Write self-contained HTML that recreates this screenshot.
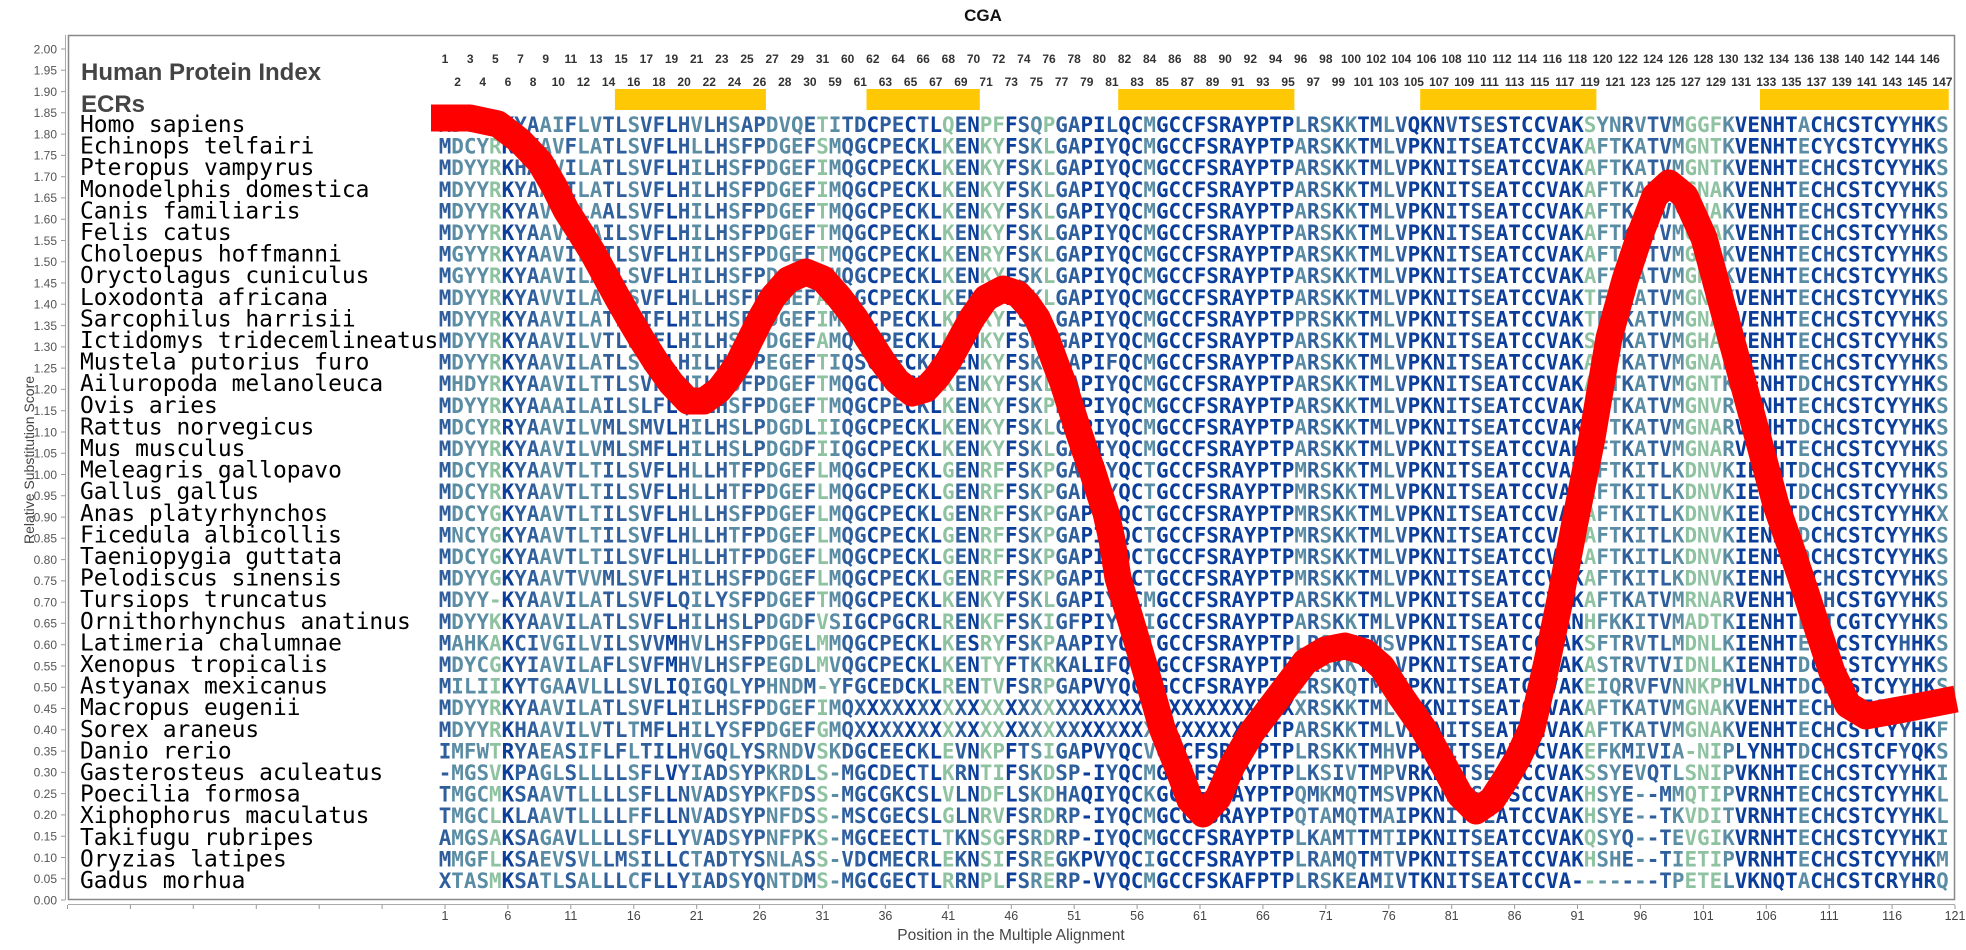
<!DOCTYPE html>
<html><head><meta charset="utf-8"><title>CGA</title>
<style>
html,body{margin:0;padding:0;background:#fff;}
svg{display:block}
.D{stop-color:#0b3d9a}.B{stop-color:#2f5e9d}.T{stop-color:#5a8ca4}.G{stop-color:#8ec2a0}
</style></head><body>
<svg width="1966" height="950" viewBox="0 0 1966 950" xmlns="http://www.w3.org/2000/svg">
<defs>
<linearGradient id="sg" gradientUnits="userSpaceOnUse" x1="438.71" y1="0" x2="1948.71" y2="0">
<stop offset="0%" class="B"/><stop offset="0.8333%" class="B"/>
<stop offset="0.8333%" class="T"/><stop offset="3.3333%" class="T"/>
<stop offset="3.3333%" class="G"/><stop offset="4.1667%" class="G"/>
<stop offset="4.1667%" class="D"/><stop offset="5%" class="D"/>
<stop offset="5%" class="B"/><stop offset="6.6667%" class="B"/>
<stop offset="6.6667%" class="T"/><stop offset="8.3333%" class="T"/>
<stop offset="8.3333%" class="B"/><stop offset="9.1667%" class="B"/>
<stop offset="9.1667%" class="T"/><stop offset="10.8333%" class="T"/>
<stop offset="10.8333%" class="B"/><stop offset="12.5%" class="B"/>
<stop offset="12.5%" class="T"/><stop offset="13.3333%" class="T"/>
<stop offset="13.3333%" class="B"/><stop offset="15%" class="B"/>
<stop offset="15%" class="D"/><stop offset="15.8333%" class="D"/>
<stop offset="15.8333%" class="B"/><stop offset="16.6667%" class="B"/>
<stop offset="16.6667%" class="T"/><stop offset="17.5%" class="T"/>
<stop offset="17.5%" class="B"/><stop offset="19.1667%" class="B"/>
<stop offset="19.1667%" class="T"/><stop offset="20%" class="T"/>
<stop offset="20%" class="B"/><stop offset="21.6667%" class="B"/>
<stop offset="21.6667%" class="T"/><stop offset="24.1667%" class="T"/>
<stop offset="24.1667%" class="B"/><stop offset="25%" class="B"/>
<stop offset="25%" class="G"/><stop offset="25.8333%" class="G"/>
<stop offset="25.8333%" class="T"/><stop offset="26.6667%" class="T"/>
<stop offset="26.6667%" class="B"/><stop offset="28.3333%" class="B"/>
<stop offset="28.3333%" class="D"/><stop offset="29.1667%" class="D"/>
<stop offset="29.1667%" class="B"/><stop offset="30.8333%" class="B"/>
<stop offset="30.8333%" class="D"/><stop offset="31.6667%" class="D"/>
<stop offset="31.6667%" class="B"/><stop offset="32.5%" class="B"/>
<stop offset="32.5%" class="D"/><stop offset="33.3333%" class="D"/>
<stop offset="33.3333%" class="G"/><stop offset="34.1667%" class="G"/>
<stop offset="34.1667%" class="B"/><stop offset="35%" class="B"/>
<stop offset="35%" class="D"/><stop offset="35.8333%" class="D"/>
<stop offset="35.8333%" class="G"/><stop offset="37.5%" class="G"/>
<stop offset="37.5%" class="D"/><stop offset="38.3333%" class="D"/>
<stop offset="38.3333%" class="B"/><stop offset="39.1667%" class="B"/>
<stop offset="39.1667%" class="T"/><stop offset="40%" class="T"/>
<stop offset="40%" class="G"/><stop offset="40.8333%" class="G"/>
<stop offset="40.8333%" class="B"/><stop offset="42.5%" class="B"/>
<stop offset="42.5%" class="D"/><stop offset="44.1667%" class="D"/>
<stop offset="44.1667%" class="B"/><stop offset="45%" class="B"/>
<stop offset="45%" class="D"/><stop offset="46.6667%" class="D"/>
<stop offset="46.6667%" class="T"/><stop offset="47.5%" class="T"/>
<stop offset="47.5%" class="D"/><stop offset="56.6667%" class="D"/>
<stop offset="56.6667%" class="T"/><stop offset="57.5%" class="T"/>
<stop offset="57.5%" class="B"/><stop offset="58.3333%" class="B"/>
<stop offset="58.3333%" class="T"/><stop offset="59.1667%" class="T"/>
<stop offset="59.1667%" class="B"/><stop offset="60%" class="B"/>
<stop offset="60%" class="T"/><stop offset="60.8333%" class="T"/>
<stop offset="60.8333%" class="D"/><stop offset="61.6667%" class="D"/>
<stop offset="61.6667%" class="B"/><stop offset="62.5%" class="B"/>
<stop offset="62.5%" class="T"/><stop offset="63.3333%" class="T"/>
<stop offset="63.3333%" class="B"/><stop offset="64.1667%" class="B"/>
<stop offset="64.1667%" class="D"/><stop offset="66.6667%" class="D"/>
<stop offset="66.6667%" class="B"/><stop offset="67.5%" class="B"/>
<stop offset="67.5%" class="D"/><stop offset="68.3333%" class="D"/>
<stop offset="68.3333%" class="B"/><stop offset="70%" class="B"/>
<stop offset="70%" class="D"/><stop offset="75.8333%" class="D"/>
<stop offset="75.8333%" class="G"/><stop offset="76.6667%" class="G"/>
<stop offset="76.6667%" class="T"/><stop offset="78.3333%" class="T"/>
<stop offset="78.3333%" class="B"/><stop offset="79.1667%" class="B"/>
<stop offset="79.1667%" class="T"/><stop offset="80%" class="T"/>
<stop offset="80%" class="B"/><stop offset="81.6667%" class="B"/>
<stop offset="81.6667%" class="T"/><stop offset="82.5%" class="T"/>
<stop offset="82.5%" class="G"/><stop offset="85%" class="G"/>
<stop offset="85%" class="T"/><stop offset="85.8333%" class="T"/>
<stop offset="85.8333%" class="D"/><stop offset="90%" class="D"/>
<stop offset="90%" class="T"/><stop offset="90.8333%" class="T"/>
<stop offset="90.8333%" class="D"/><stop offset="91.6667%" class="D"/>
<stop offset="91.6667%" class="B"/><stop offset="92.5%" class="B"/>
<stop offset="92.5%" class="D"/><stop offset="96.6667%" class="D"/>
<stop offset="96.6667%" class="B"/><stop offset="97.5%" class="B"/>
<stop offset="97.5%" class="D"/><stop offset="99.1667%" class="D"/>
<stop offset="99.1667%" class="T"/><stop offset="100%" class="T"/>
</linearGradient>
</defs>

<rect x="0" y="0" width="1966" height="950" fill="#fff"/>

<!-- title -->
<text x="983" y="21" text-anchor="middle" font-family="'Liberation Sans', sans-serif" font-weight="bold" font-size="17" fill="#111">CGA</text>

<!-- axes -->
<line x1="65.5" y1="35" x2="65.5" y2="900" stroke="#aaa" stroke-width="1"/>
<line x1="68" y1="904.5" x2="1955" y2="904.5" stroke="#aaa" stroke-width="1"/>
<path stroke="#999" stroke-width="1" fill="none" d="M61 900H65M61 878.7H65M61 857.5H65M61 836.2H65M61 814.9H65M61 793.6H65M61 772.4H65M61 751.1H65M61 729.8H65M61 708.5H65M61 687.3H65M61 666H65M61 644.7H65M61 623.4H65M61 602.2H65M61 580.9H65M61 559.6H65M61 538.3H65M61 517.1H65M61 495.8H65M61 474.5H65M61 453.2H65M61 432H65M61 410.7H65M61 389.4H65M61 368.1H65M61 346.9H65M61 325.6H65M61 304.3H65M61 283H65M61 261.8H65M61 240.5H65M61 219.2H65M61 197.9H65M61 176.7H65M61 155.4H65M61 134.1H65M61 112.8H65M61 91.6H65M61 70.3H65M61 49H65"/>
<path stroke="#999" stroke-width="1" fill="none" d="M67.5 905V909M130.4 905V909M193.3 905V909M256.3 905V909M319.2 905V909M382.1 905V909M445 905V909M507.9 905V909M570.8 905V909M633.8 905V909M696.7 905V909M759.6 905V909M822.5 905V909M885.4 905V909M948.3 905V909M1011.3 905V909M1074.2 905V909M1137.1 905V909M1200 905V909M1262.9 905V909M1325.8 905V909M1388.8 905V909M1451.7 905V909M1514.6 905V909M1577.5 905V909M1640.4 905V909M1703.3 905V909M1766.3 905V909M1829.2 905V909M1892.1 905V909M1955 905V909"/>

<g font-family="'Liberation Sans', sans-serif" font-size="12" fill="#555" text-anchor="end">
<text x="57" y="904.3">0.00</text><text x="57" y="883">0.05</text><text x="57" y="861.8">0.10</text><text x="57" y="840.5">0.15</text><text x="57" y="819.2">0.20</text><text x="57" y="797.9">0.25</text><text x="57" y="776.7">0.30</text><text x="57" y="755.4">0.35</text><text x="57" y="734.1">0.40</text><text x="57" y="712.8">0.45</text><text x="57" y="691.6">0.50</text><text x="57" y="670.3">0.55</text><text x="57" y="649">0.60</text><text x="57" y="627.7">0.65</text><text x="57" y="606.5">0.70</text><text x="57" y="585.2">0.75</text><text x="57" y="563.9">0.80</text><text x="57" y="542.6">0.85</text><text x="57" y="521.4">0.90</text><text x="57" y="500.1">0.95</text><text x="57" y="478.8">1.00</text><text x="57" y="457.5">1.05</text><text x="57" y="436.3">1.10</text><text x="57" y="415">1.15</text><text x="57" y="393.7">1.20</text><text x="57" y="372.4">1.25</text><text x="57" y="351.2">1.30</text><text x="57" y="329.9">1.35</text><text x="57" y="308.6">1.40</text><text x="57" y="287.3">1.45</text><text x="57" y="266.1">1.50</text><text x="57" y="244.8">1.55</text><text x="57" y="223.5">1.60</text><text x="57" y="202.2">1.65</text><text x="57" y="181">1.70</text><text x="57" y="159.7">1.75</text><text x="57" y="138.4">1.80</text><text x="57" y="117.1">1.85</text><text x="57" y="95.9">1.90</text><text x="57" y="74.6">1.95</text><text x="57" y="53.3">2.00</text>
</g>

<g font-family="'Liberation Sans', sans-serif" font-size="12.5" fill="#444" text-anchor="middle">
<text x="445" y="920">1</text><text x="507.9" y="920">6</text><text x="570.8" y="920">11</text><text x="633.8" y="920">16</text><text x="696.7" y="920">21</text><text x="759.6" y="920">26</text><text x="822.5" y="920">31</text><text x="885.4" y="920">36</text><text x="948.3" y="920">41</text><text x="1011.3" y="920">46</text><text x="1074.2" y="920">51</text><text x="1137.1" y="920">56</text><text x="1200" y="920">61</text><text x="1262.9" y="920">66</text><text x="1325.8" y="920">71</text><text x="1388.8" y="920">76</text><text x="1451.7" y="920">81</text><text x="1514.6" y="920">86</text><text x="1577.5" y="920">91</text><text x="1640.4" y="920">96</text><text x="1703.3" y="920">101</text><text x="1766.3" y="920">106</text><text x="1829.2" y="920">111</text><text x="1892.1" y="920">116</text><text x="1955" y="920">121</text>
</g>

<text x="1011" y="940" text-anchor="middle" font-family="'Liberation Sans', sans-serif" font-size="15.5" fill="#444">Position in the Multiple Alignment</text>
<text transform="translate(34,460) rotate(-90)" text-anchor="middle" font-family="'Liberation Sans', sans-serif" font-size="14" fill="#444">Relative Substitution Score</text>

<!-- plot frame -->
<rect x="68.5" y="35.5" width="1886" height="864" fill="none" stroke="#888" stroke-width="1.5"/>

<!-- headers -->
<g font-family="'Liberation Sans', sans-serif" font-weight="bold" font-size="24" fill="#444">
<text x="81" y="80">Human Protein Index</text>
<text x="81" y="112">ECRs</text>
</g>

<!-- ECR bars -->
<g fill="#FFC805">
<rect x="614.9" y="89" width="151" height="21"/>
<rect x="866.5" y="89" width="113.3" height="21"/>
<rect x="1118.2" y="89" width="176.2" height="21"/>
<rect x="1420.2" y="89" width="176.2" height="21"/>
<rect x="1760" y="89" width="188.7" height="21"/>
</g>

<!-- human protein index numbers -->
<g font-family="'Liberation Sans', sans-serif" font-weight="bold" font-size="12" fill="#333" text-anchor="middle">
<text x="445" y="63">1</text><text x="470.17" y="63">3</text><text x="495.33" y="63">5</text><text x="520.5" y="63">7</text><text x="545.67" y="63">9</text><text x="570.83" y="63">11</text><text x="596" y="63">13</text><text x="621.17" y="63">15</text><text x="646.33" y="63">17</text><text x="671.5" y="63">19</text><text x="696.67" y="63">21</text><text x="721.83" y="63">23</text><text x="747" y="63">25</text><text x="772.17" y="63">27</text><text x="797.33" y="63">29</text><text x="822.5" y="63">31</text><text x="847.67" y="63">60</text><text x="872.83" y="63">62</text><text x="898" y="63">64</text><text x="923.17" y="63">66</text><text x="948.33" y="63">68</text><text x="973.5" y="63">70</text><text x="998.67" y="63">72</text><text x="1023.83" y="63">74</text><text x="1049" y="63">76</text><text x="1074.17" y="63">78</text><text x="1099.33" y="63">80</text><text x="1124.5" y="63">82</text><text x="1149.67" y="63">84</text><text x="1174.83" y="63">86</text><text x="1200" y="63">88</text><text x="1225.17" y="63">90</text><text x="1250.33" y="63">92</text><text x="1275.5" y="63">94</text><text x="1300.67" y="63">96</text><text x="1325.83" y="63">98</text><text x="1351" y="63">100</text><text x="1376.17" y="63">102</text><text x="1401.33" y="63">104</text><text x="1426.5" y="63">106</text><text x="1451.67" y="63">108</text><text x="1476.83" y="63">110</text><text x="1502" y="63">112</text><text x="1527.17" y="63">114</text><text x="1552.33" y="63">116</text><text x="1577.5" y="63">118</text><text x="1602.67" y="63">120</text><text x="1627.83" y="63">122</text><text x="1653" y="63">124</text><text x="1678.17" y="63">126</text><text x="1703.33" y="63">128</text><text x="1728.5" y="63">130</text><text x="1753.67" y="63">132</text><text x="1778.83" y="63">134</text><text x="1804" y="63">136</text><text x="1829.17" y="63">138</text><text x="1854.33" y="63">140</text><text x="1879.5" y="63">142</text><text x="1904.67" y="63">144</text><text x="1929.83" y="63">146</text>
<text x="457.58" y="86">2</text><text x="482.75" y="86">4</text><text x="507.92" y="86">6</text><text x="533.08" y="86">8</text><text x="558.25" y="86">10</text><text x="583.42" y="86">12</text><text x="608.58" y="86">14</text><text x="633.75" y="86">16</text><text x="658.92" y="86">18</text><text x="684.08" y="86">20</text><text x="709.25" y="86">22</text><text x="734.42" y="86">24</text><text x="759.58" y="86">26</text><text x="784.75" y="86">28</text><text x="809.92" y="86">30</text><text x="835.08" y="86">59</text><text x="860.25" y="86">61</text><text x="885.42" y="86">63</text><text x="910.58" y="86">65</text><text x="935.75" y="86">67</text><text x="960.92" y="86">69</text><text x="986.08" y="86">71</text><text x="1011.25" y="86">73</text><text x="1036.42" y="86">75</text><text x="1061.58" y="86">77</text><text x="1086.75" y="86">79</text><text x="1111.92" y="86">81</text><text x="1137.08" y="86">83</text><text x="1162.25" y="86">85</text><text x="1187.42" y="86">87</text><text x="1212.58" y="86">89</text><text x="1237.75" y="86">91</text><text x="1262.92" y="86">93</text><text x="1288.08" y="86">95</text><text x="1313.25" y="86">97</text><text x="1338.42" y="86">99</text><text x="1363.58" y="86">101</text><text x="1388.75" y="86">103</text><text x="1413.92" y="86">105</text><text x="1439.08" y="86">107</text><text x="1464.25" y="86">109</text><text x="1489.42" y="86">111</text><text x="1514.58" y="86">113</text><text x="1539.75" y="86">115</text><text x="1564.92" y="86">117</text><text x="1590.08" y="86">119</text><text x="1615.25" y="86">121</text><text x="1640.42" y="86">123</text><text x="1665.58" y="86">125</text><text x="1690.75" y="86">127</text><text x="1715.92" y="86">129</text><text x="1741.08" y="86">131</text><text x="1766.25" y="86">133</text><text x="1791.42" y="86">135</text><text x="1816.58" y="86">137</text><text x="1841.75" y="86">139</text><text x="1866.92" y="86">141</text><text x="1892.08" y="86">143</text><text x="1917.25" y="86">145</text><text x="1942.42" y="86">147</text>
</g>

<!-- species names -->
<g font-family="'DejaVu Sans Mono', 'Liberation Mono', monospace" font-size="22.9" fill="#000">
<text x="80" y="132">Homo sapiens</text>
<text x="80" y="153.6">Echinops telfairi</text>
<text x="80" y="175.2">Pteropus vampyrus</text>
<text x="80" y="196.8">Monodelphis domestica</text>
<text x="80" y="218.4">Canis familiaris</text>
<text x="80" y="240">Felis catus</text>
<text x="80" y="261.6">Choloepus hoffmanni</text>
<text x="80" y="283.2">Oryctolagus cuniculus</text>
<text x="80" y="304.8">Loxodonta africana</text>
<text x="80" y="326.4">Sarcophilus harrisii</text>
<text x="80" y="348">Ictidomys tridecemlineatus</text>
<text x="80" y="369.6">Mustela putorius furo</text>
<text x="80" y="391.2">Ailuropoda melanoleuca</text>
<text x="80" y="412.8">Ovis aries</text>
<text x="80" y="434.4">Rattus norvegicus</text>
<text x="80" y="456">Mus musculus</text>
<text x="80" y="477.6">Meleagris gallopavo</text>
<text x="80" y="499.2">Gallus gallus</text>
<text x="80" y="520.8">Anas platyrhynchos</text>
<text x="80" y="542.4">Ficedula albicollis</text>
<text x="80" y="564">Taeniopygia guttata</text>
<text x="80" y="585.6">Pelodiscus sinensis</text>
<text x="80" y="607.2">Tursiops truncatus</text>
<text x="80" y="628.8">Ornithorhynchus anatinus</text>
<text x="80" y="650.4">Latimeria chalumnae</text>
<text x="80" y="672">Xenopus tropicalis</text>
<text x="80" y="693.6">Astyanax mexicanus</text>
<text x="80" y="715.2">Macropus eugenii</text>
<text x="80" y="736.8">Sorex araneus</text>
<text x="80" y="758.4">Danio rerio</text>
<text x="80" y="780">Gasterosteus aculeatus</text>
<text x="80" y="801.6">Poecilia formosa</text>
<text x="80" y="823.2">Xiphophorus maculatus</text>
<text x="80" y="844.8">Takifugu rubripes</text>
<text x="80" y="866.4">Oryzias latipes</text>
<text x="80" y="888">Gadus morhua</text>
</g>

<!-- alignment -->
<g font-family="'DejaVu Sans Mono', 'Liberation Mono', monospace" font-weight="bold" font-size="20.9" fill="url(#sg)">
<text x="438.7" y="132" textLength="1510" lengthAdjust="spacing">MDYYRKYAAIFLVTLSVFLHVLHSAPDVQETITDCPECTLQENPFFSQPGAPILQCMGCCFSRAYPTPLRSKKTMLVQKNVTSESTCCVAKSYNRVTVMGGFKVENHTACHCSTCYYHKS</text>
<text x="438.7" y="153.6" textLength="1510" lengthAdjust="spacing">MDCYRKYVAVFLATLSVFLHLLHSFPDGEFSMQGCPECKLKENKYFSKLGAPIYQCMGCCFSRAYPTPARSKKTMLVPKNITSEATCCVAKAFTKATVMGNTKVENHTECYCSTCYYHKS</text>
<text x="438.7" y="175.2" textLength="1510" lengthAdjust="spacing">MDYYRKHAAVILATLSVFLHILHSFPDGEFIMQGCPECKLKENKYFSKLGAPIYQCMGCCFSRAYPTPARSKKTMLVPKNITSEATCCVAKAFTKATVMGNTKVENHTECHCSTCYYHKS</text>
<text x="438.7" y="196.8" textLength="1510" lengthAdjust="spacing">MDYYRKYAAVILATLSVFLHILHSFPDGEFIMQGCPECKLKENKYFSKLGAPIYQCMGCCFSRAYPTPARSKKTMLVPKNITSEATCCVAKAFTKATVMGNAKVENHTECHCSTCYYHKS</text>
<text x="438.7" y="218.4" textLength="1510" lengthAdjust="spacing">MDYYRKYAVVILAALSVFLHILHSFPDGEFTMQGCPECKLKENKYFSKLGAPIYQCMGCCFSRAYPTPARSKKTMLVPKNITSEATCCVAKAFTKATVMGNAKVENHTECHCSTCYYHKS</text>
<text x="438.7" y="240" textLength="1510" lengthAdjust="spacing">MDYYRKYAAVILAILSVFLHILHSFPDGEFTMQGCPECKLKENKYFSKLGAPIYQCMGCCFSRAYPTPARSKKTMLVPKNITSEATCCVAKAFTKATVMGNAKVENHTECHCSTCYYHKS</text>
<text x="438.7" y="261.6" textLength="1510" lengthAdjust="spacing">MGYYRKYAAVILATLSVFLHILHSFPDGEFTMQGCPECKLKENRYFSKLGAPIYQCMGCCFSRAYPTPARSKKTMLVPKNITSEATCCVAKAFTKATVMGNAKVENHTECHCSTCYYHKS</text>
<text x="438.7" y="283.2" textLength="1510" lengthAdjust="spacing">MGYYRKYAAVILATLSVFLHILHSFPDGEFAMQGCPECKLKENKYFSKLGAPIYQCMGCCFSRAYPTPARSKKTMLVPKNITSEATCCVAKAFTKATVMGNAKVENHTECHCSTCYYHKS</text>
<text x="438.7" y="304.8" textLength="1510" lengthAdjust="spacing">MDYYRKYAVVILATLSVFLHLLHSFPDGEFALQGCPECKLKENKYFSKLGAPIYQCMGCCFSRAYPTPARSKKTMLVPKNITSEATCCVAKTFTKATVMGNAKVENHTECHCSTCYYHKS</text>
<text x="438.7" y="326.4" textLength="1510" lengthAdjust="spacing">MDYYRKYAAVILATLSIFLHILHSFPDGEFIMQGCPECKLKENKYFSRLGAPIYQCMGCCFSRAYPTPPRSKKTMLVPKNITSEATCCVAKTFTKATVMGNAKVENHTECHCSTCYYHKS</text>
<text x="438.7" y="348" textLength="1510" lengthAdjust="spacing">MDYYRKYAAVILVTLSVFLHILHSFPDGEFAMQGCPECKLKENKYFSKLGAPIYQCMGCCFSRAYPTPARSKKTMLVPKNITSEATCCVAKSFTKATVMGHARVENHTECHCSTCYYHKS</text>
<text x="438.7" y="369.6" textLength="1510" lengthAdjust="spacing">MDYYRKYAAVILATLSVFLHILHSFPEGEFTIQSCPECKLKENKYFSKLGAPIFQCMGCCFSRAYPTPARSKKTMLVPKNITSEATCCVAKAFTKATVMGNAKVENHTECHCSTCYYHKS</text>
<text x="438.7" y="391.2" textLength="1510" lengthAdjust="spacing">MHDYRKYAAVILTTLSVFLHILHSFPDGEFTMQGCPECKLKENKYFSKLGAPIYQCMGCCFSRAYPTPARSKKTMLVPKNITSEATCCVAKAFTKATVMGNTKVENHTDCHCSTCYYHKS</text>
<text x="438.7" y="412.8" textLength="1510" lengthAdjust="spacing">MDYYRKYAAAILAILSLFLQILHSFPDGEFTMQGCPECKLKENKYFSKPDAPIYQCMGCCFSRAYPTPARSKKTMLVPKNITSEATCCVAKAFTKATVMGNVRVENHTECHCSTCYYHKS</text>
<text x="438.7" y="434.4" textLength="1510" lengthAdjust="spacing">MDCYRRYAAVILVMLSMVLHILHSLPDGDLIIQGCPECKLKENKYFSKLGAPIYQCMGCCFSRAYPTPARSKKTMLVPKNITSEATCCVAKSFTKATVMGNARVENHTDCHCSTCYYHKS</text>
<text x="438.7" y="456" textLength="1510" lengthAdjust="spacing">MDYYRKYAAVILVMLSMFLHILHSLPDGDFIIQGCPECKLKENKYFSKLGAPIYQCMGCCFSRAYPTPARSKKTMLVPKNITSEATCCVAKAFTKATVMGNARVENHTECHCSTCYYHKS</text>
<text x="438.7" y="477.6" textLength="1510" lengthAdjust="spacing">MDCYRKYAAVTLTILSVFLHLLHTFPDGEFLMQGCPECKLGENRFFSKPGAPIYQCTGCCFSRAYPTPMRSKKTMLVPKNITSEATCCVAKAFTKITLKDNVKIENHTDCHCSTCYYHKS</text>
<text x="438.7" y="499.2" textLength="1510" lengthAdjust="spacing">MDCYRKYAAVTLTILSVFLHLLHTFPDGEFLMQGCPECKLGENRFFSKPGAPIYQCTGCCFSRAYPTPMRSKKTMLVPKNITSEATCCVAKAFTKITLKDNVKIENHTDCHCSTCYYHKS</text>
<text x="438.7" y="520.8" textLength="1510" lengthAdjust="spacing">MDCYGKYAAVTLTILSVFLHLLHSFPDGEFLMQGCPECKLGENRFFSKPGAPIYQCTGCCFSRAYPTPMRSKKTMLVPKNITSEATCCVAKAFTKITLKDNVKIENHTDCHCSTCYYHKX</text>
<text x="438.7" y="542.4" textLength="1510" lengthAdjust="spacing">MNCYGKYAAVTLTILSVFLHLLHTFPDGEFLMQGCPECKLGENRFFSKPGAPIYQCTGCCFSRAYPTPMRSKKTMLVPKNITSEATCCVAKAFTKITLKDNVKIENHTDCHCSTCYYHKS</text>
<text x="438.7" y="564" textLength="1510" lengthAdjust="spacing">MDCYGKYAAVTLTILSVFLHLLHTFPDGEFLMQGCPECKLGENRFFSKPGAPIYQCTGCCFSRAYPTPMRSKKTMLVPKNITSEATCCVAKAFTKITLKDNVKIENHTDCHCSTCYYHKS</text>
<text x="438.7" y="585.6" textLength="1510" lengthAdjust="spacing">MDYYGKYAAVTVVMLSVFLHILHSFPDGEFLMQGCPECKLGENRFFSKPGAPIYQCTGCCFSRAYPTPMRSKKTMLVPKNITSEATCCVAKAFTKITLKDNVKIENHTDCHCSTCYYHKS</text>
<text x="438.7" y="607.2" textLength="1510" lengthAdjust="spacing">MDYY-KYAAVILATLSVFLQILYSFPDGEFTMQGCPECKLKENKYFSKLGAPIYQCMGCCFSRAYPTPARSKKTMLVPKNITSEATCCVAKAFTKATVMRNARVENHTE-HCSTGYYHKS</text>
<text x="438.7" y="628.8" textLength="1510" lengthAdjust="spacing">MDYYKKYAAVILATLSVFLHILHSLPDGDFVSIGCPGCRLRENKFFSKIGFPIYQCIGCCFSRAYPTPARSKKTMLVPKNITSEATCCVANHFKKITVMADTKIENHTECTCGTCYYHKS</text>
<text x="438.7" y="650.4" textLength="1510" lengthAdjust="spacing">MAHKAKCIVGILVILSVVMHVLHSFPDGELMMQGCPECKLKESRYFSKPAAPIYQCTGCCFSRAYPTPLRSKKTMSVPKNITSEATCCVAKSFTRVTLMDNLKIENHTECHCSTCYHHKS</text>
<text x="438.7" y="672" textLength="1510" lengthAdjust="spacing">MDYCGKYIAVILAFLSVFMHVLHSFPEGDLMVQGCPECKLKENTYFTKRKALIFQCTGCCFSRAYPTPMRSKKTMLVPKNITSEATCCVAKASTRVTVIDNLKIENHTDCHCSTCYYHKS</text>
<text x="438.7" y="693.6" textLength="1510" lengthAdjust="spacing">MILIIKYTGAAVLLLSVLIQIGQLYPHNDM-YFGCEDCKLRENTVFSRPGAPVYQCMGCCFSRAYPTPLRSKQTMLVPKNITSEATCCVAKEIQRVFVNNKPHVLNHTDCHCSTCYYHKS</text>
<text x="438.7" y="715.2" textLength="1510" lengthAdjust="spacing">MDYYRKYAAVILATLSVFLHILHSFPDGEFIMQXXXXXXXXXXXXXXXXXXXXXXXXXXXXXXXXXXXXRSKKTMLVPKNITSEATCCVAKAFTKATVMGNAKVENHTECHCSTCYYHS-</text>
<text x="438.7" y="736.8" textLength="1510" lengthAdjust="spacing">MDYYRKHAAVILVTLTMFLHILYSFPDGEFGMQXXXXXXXXXXXXXXXXXXXXXXXXXXXXXXXXXTPARSKKTMLVPKNITSEATCCVAKAFTKATVMGNAKVENHTECHCSTCYYHKF</text>
<text x="438.7" y="758.4" textLength="1510" lengthAdjust="spacing">IMFWTRYAEASIFLFLTILHVGQLYSRNDVSKDGCEECKLEVNKPFTSIGAPVYQCVGCCFSRAYPTPLRSKKTMHVPKNITSEATCCVAKEFKMIVIA-NIPLYNHTDCHCSTCFYQKS</text>
<text x="438.7" y="780" textLength="1510" lengthAdjust="spacing">-MGSVKPAGLSLLLLSFLVYIADSYPKRDLS-MGCDECTLKRNTIFSKDSP-IYQCMGCCFSRAYPTPLKSIVTMPVRKNITSEATCCVAKSSYEVQTLSNIPVKNHTECHCSTCYYHKI</text>
<text x="438.7" y="801.6" textLength="1510" lengthAdjust="spacing">TMGCMKSAAVTLLLLSFLLNVADSYPKFDSS-MGCGKCSLVLNDFLSKDHAQIYQCKGCCFSRAYPTPQMKMQTMSVPKNITSEASCCVAKHSYE--MMQTIPVRNHTECHCSTCYYHKL</text>
<text x="438.7" y="823.2" textLength="1510" lengthAdjust="spacing">TMGCLKLAAVTLLLLFFLLNVADSYPNFDSS-MSCGECSLGLNRVFSRDRP-IYQCMGCCFSRAYPTPQTAMQTMAIPKNITSEATCCVAKHSYE--TKVDITVRNHTECHCSTCYYHKL</text>
<text x="438.7" y="844.8" textLength="1510" lengthAdjust="spacing">AMGSAKSAGAVLLLLSFLLYVADSYPNFPKS-MGCEECTLTKNSGFSRDRP-IYQCMGCCFSRAYPTPLKAMTTMTIPKNITSEATCCVAKQSYQ--TEVGIKVRNHTECHCSTCYYHKI</text>
<text x="438.7" y="866.4" textLength="1510" lengthAdjust="spacing">MMGFLKSAEVSVLLMSILLCTADTYSNLASS-VDCMECRLEKNSIFSREGKPVYQCIGCCFSRAYPTPLRAMQTMTVPKNITSEATCCVAKHSHE--TIETIPVRNHTECHCSTCYYHKM</text>
<text x="438.7" y="888" textLength="1510" lengthAdjust="spacing">XTASMKSATLSALLLCFLLYIADSYQNTDMS-MGCGECTLRRNPLFSRERP-VYQCMGCCFSKAFPTPLRSKEAMIVTKNITSEATCCVA-------TPETELVKNQTACHCSTCRYHRQ</text>
</g>

<!-- substitution score line -->
<path fill="none" stroke="#ff0000" stroke-width="27" stroke-linejoin="round" stroke-linecap="butt"
d="M431,118 L470,118 L498,124 L520,141 L540,162 L554,186 L566,210 L580,232 L593,253 L605,275 L617,297 L629,318 L642,340 L656,362 L671,383 L688,401 L704,401 L719,390 L729,377 L739,362 L750,340 L761,318 L773,297 L788,280 L806,272 L823,279 L839,297 L855,318 L869,340 L883,362 L897,381 L912,393 L926,389 L937,377 L949,360 L960,340 L972,318 L986,298 L1003,289 L1018,294 L1028,305 L1037,318 L1047,340 L1055,362 L1063,383 L1070,405 L1077,427 L1084,448 L1092,470 L1099,492 L1106,513 L1112,540 L1118,578 L1133,628 L1149,682 L1162,728 L1178,768 L1190,800 L1203,814 L1218,798 L1232,766 L1252,732 L1280,695 L1305,662 L1325,650 L1345,646 L1365,652 L1382,667 L1400,695 L1423,728 L1442,762 L1460,795 L1476,811 L1492,800 L1505,780 L1518,758 L1532,728 L1547,662 L1561,595 L1575,522 L1592,438 L1609,338 L1625,280 L1640,235 L1655,196 L1669,183 L1685,196 L1704,238 L1731,338 L1758,438 L1776,505 L1790,545 L1805,590 L1818,630 L1832,672 L1848,705 L1866,716 L1910,708 L1956,699"/>
</svg>
</body></html>
